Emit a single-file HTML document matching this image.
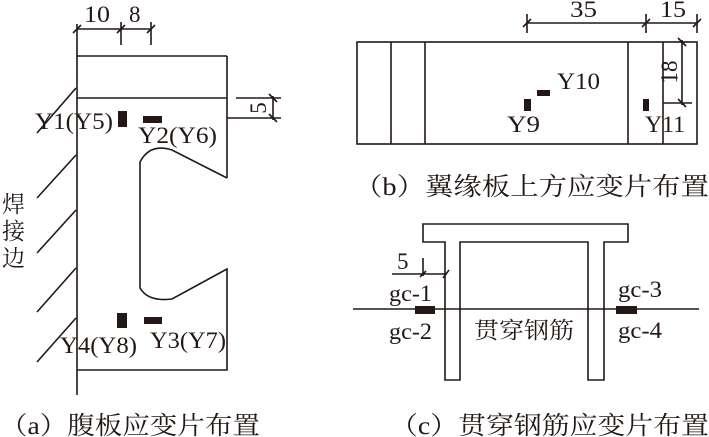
<!DOCTYPE html>
<html><head><meta charset="utf-8"><style>
html,body{margin:0;padding:0;background:#fff;}
svg{display:block;}
text{font-family:"Liberation Serif","Noto Serif CJK SC",serif;fill:#231815;}
.cn{font-family:"Liberation Serif","Noto Serif CJK SC",serif;}
</style></head><body>
<svg width="709" height="437" viewBox="0 0 709 437" xmlns="http://www.w3.org/2000/svg">
<g stroke="#231815" stroke-width="1.6" fill="none">
<line x1="77" y1="24" x2="77" y2="395"/>
<line x1="77" y1="56" x2="227" y2="56"/>
<line x1="227" y1="56" x2="227" y2="178"/>
<line x1="77" y1="98" x2="227" y2="98"/>
<path d="M227,178 L172,150 Q150,143 140,162 L140,288 Q148,302 172,299 L227,269 L227,370 L77,370"/>
<line x1="77" y1="29" x2="151" y2="29"/>
<line x1="121" y1="22" x2="121" y2="45"/>
<line x1="151" y1="22" x2="151" y2="45"/>
<line x1="73" y1="33" x2="81" y2="25"/>
<line x1="117" y1="33" x2="125" y2="25"/>
<line x1="147" y1="33" x2="155" y2="25"/>
<line x1="236" y1="98" x2="281" y2="98"/>
<line x1="227" y1="118" x2="281" y2="118"/>
<line x1="273" y1="96" x2="273" y2="120"/>
<line x1="269" y1="94" x2="277" y2="102"/>
<line x1="269" y1="114" x2="277" y2="122"/>
<line x1="76" y1="88" x2="37" y2="133"/>
<line x1="76" y1="155" x2="37" y2="198"/>
<line x1="76" y1="210" x2="37" y2="253"/>
<line x1="76" y1="268" x2="37" y2="312"/>
<line x1="76" y1="318" x2="37" y2="362"/>
<rect x="357" y="42" width="340" height="102"/>
<line x1="391" y1="42" x2="391" y2="144"/>
<line x1="425" y1="42" x2="425" y2="144"/>
<line x1="628" y1="42" x2="628" y2="144"/>
<line x1="663" y1="42" x2="663" y2="144"/>
<line x1="527" y1="23" x2="697" y2="23"/>
<line x1="527" y1="14" x2="527" y2="33"/>
<line x1="646" y1="14" x2="646" y2="33"/>
<line x1="697" y1="14" x2="697" y2="33"/>
<line x1="523" y1="27" x2="531" y2="19"/>
<line x1="642" y1="27" x2="650" y2="19"/>
<line x1="693" y1="27" x2="701" y2="19"/>
<line x1="682" y1="40" x2="682" y2="105"/>
<line x1="663" y1="103" x2="692" y2="103"/>
<line x1="678" y1="38" x2="686" y2="46"/>
<line x1="678" y1="99" x2="686" y2="107"/>
<line x1="661" y1="78" x2="678" y2="78" stroke-width="1"/>
<path d="M423,224 L628,224 L628,242 L604,242 L604,380 L588,380 L588,242 L460,242 L460,380 L445,380 L445,242 L423,242 Z"/>
<line x1="353" y1="309" x2="699" y2="309"/>
<line x1="392" y1="274" x2="447" y2="274"/>
<line x1="423" y1="258" x2="423" y2="276"/>
<line x1="420" y1="277" x2="426" y2="271"/>
<line x1="443" y1="278" x2="449" y2="270"/>
</g>
<g fill="#231815">
<rect x="118" y="111" width="9" height="16"/>
<rect x="143" y="116" width="19" height="7"/>
<rect x="117" y="313" width="10" height="15"/>
<rect x="144" y="317" width="18" height="7"/>
<rect x="524" y="99" width="7" height="12"/>
<rect x="537" y="90" width="13" height="6"/>
<rect x="643" y="99" width="6" height="12"/>
<rect x="415" y="306" width="20" height="8"/>
<rect x="616" y="306" width="21" height="8"/>
</g>
<g font-size="23">
<text x="84" y="22" textLength="26" lengthAdjust="spacingAndGlyphs">10</text>
<text x="129" y="22">8</text>
<text x="35" y="129" textLength="78" lengthAdjust="spacingAndGlyphs">Y1(Y5)</text>
<text x="138" y="143" textLength="79" lengthAdjust="spacingAndGlyphs">Y2(Y6)</text>
<text x="60" y="353" textLength="77" lengthAdjust="spacingAndGlyphs">Y4(Y8)</text>
<text x="150" y="348" textLength="76" lengthAdjust="spacingAndGlyphs">Y3(Y7)</text>
<text transform="translate(266,108) rotate(-90)" text-anchor="middle" dy="0">5</text>
<text x="570" y="17" textLength="27" lengthAdjust="spacingAndGlyphs">35</text>
<text x="660" y="17" textLength="26" lengthAdjust="spacingAndGlyphs">15</text>
<text transform="translate(677,72) rotate(-90)" text-anchor="middle">18</text>
<text x="557" y="89" textLength="43" lengthAdjust="spacingAndGlyphs">Y10</text>
<text x="507" y="132" textLength="33" lengthAdjust="spacingAndGlyphs">Y9</text>
<text x="645" y="132" textLength="40" lengthAdjust="spacingAndGlyphs">Y11</text>
<text x="397" y="269">5</text>
<text x="389" y="301" textLength="43" lengthAdjust="spacingAndGlyphs">gc-1</text>
<text x="389" y="339" textLength="43" lengthAdjust="spacingAndGlyphs">gc-2</text>
<text x="618" y="297" textLength="44" lengthAdjust="spacingAndGlyphs">gc-3</text>
<text x="618" y="338" textLength="44" lengthAdjust="spacingAndGlyphs">gc-4</text>
<text x="474" y="338" class="cn" textLength="100" lengthAdjust="spacingAndGlyphs">贯穿钢筋</text>
<text x="2" y="212" class="cn">焊</text>
<text x="2" y="239" class="cn">接</text>
<text x="2" y="266" class="cn">边</text>
</g>
<g font-size="25" class="cn">
<text x="0" y="434" textLength="260" lengthAdjust="spacingAndGlyphs">（a）腹板应变片布置</text>
<text x="354" y="195" textLength="355" lengthAdjust="spacingAndGlyphs">（b）翼缘板上方应变片布置</text>
<text x="390" y="434" textLength="319" lengthAdjust="spacingAndGlyphs">（c）贯穿钢筋应变片布置</text>
</g>
</svg>
</body></html>
